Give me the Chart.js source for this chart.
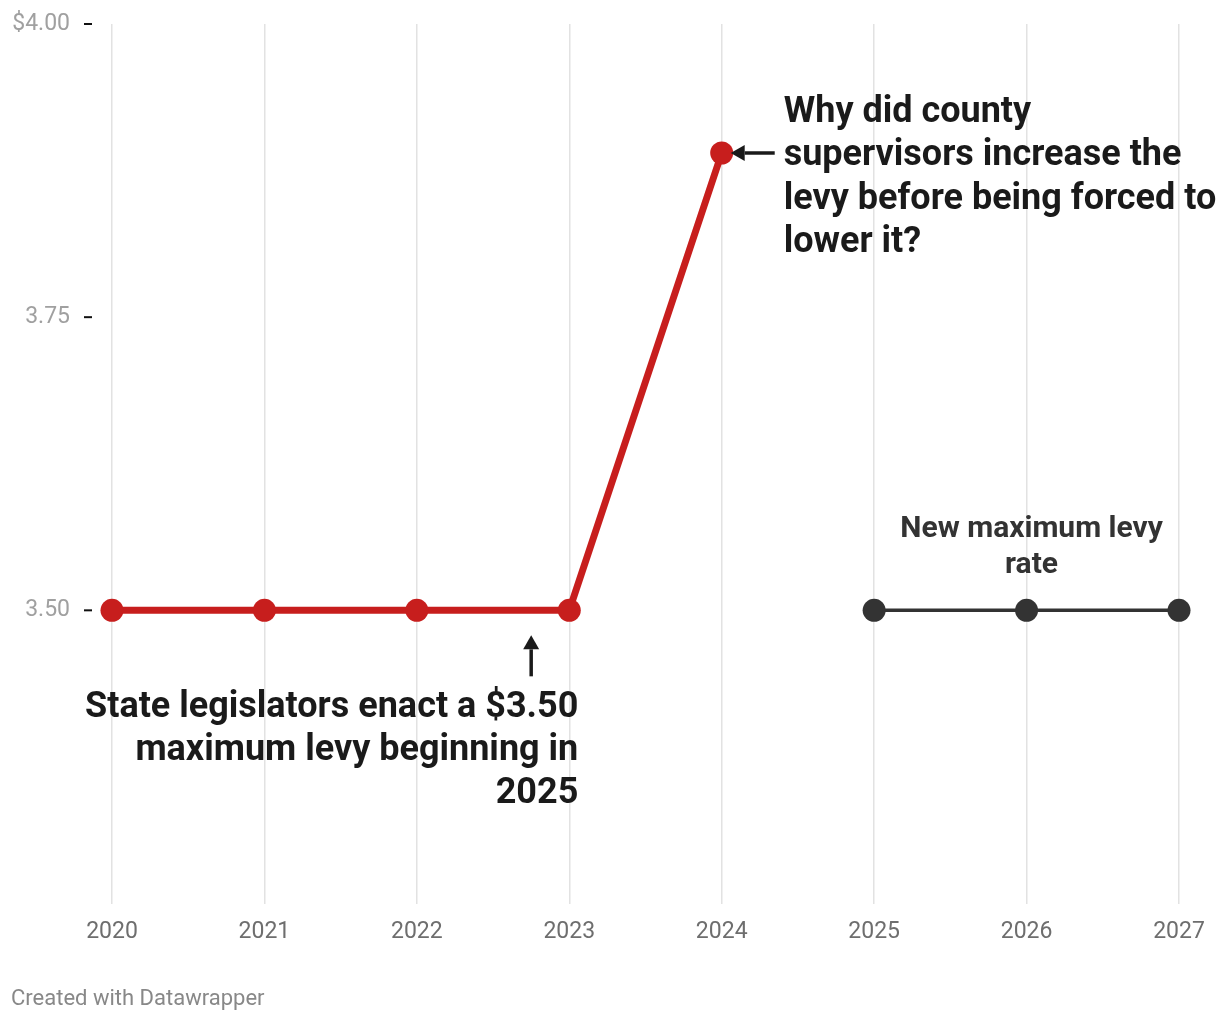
<!DOCTYPE html>
<html><head><meta charset="utf-8">
<script src="https://cdn.jsdelivr.net/npm/chart.js@4"></script>
<style>
html,body{margin:0;padding:0;background:#fff;}
#wrap{position:relative;width:1220px;height:1020px;overflow:hidden;}
#credit{position:absolute;left:11px;top:985px;font:22px Roboto,sans-serif;color:#888;line-height:26px;}
</style></head><body>
<div id="wrap"><canvas id="c" width="1220" height="1020"></canvas><div id="credit">Created with Datawrapper</div></div>
<script>
const levyYears = [2020, 2021, 2022, 2023, 2024];
const levyRates = [3.50, 3.50, 3.50, 3.50, 3.89];
const capYears = [2025, 2026, 2027];
const capRates = [3.50, 3.50, 3.50];
const yTickValues = [3.50, 3.75, 4.00];
const yTickLabels = ['3.50', '3.75', '$4.00'];
const topNote = ['Why did county', 'supervisors increase the', 'levy before being forced to', 'lower it?'];
const bottomNote = ['State legislators enact a $3.50', 'maximum levy beginning in', '2025'];
const capNote = ['New maximum levy', 'rate'];

const RED = '#c71e1d', DARK = '#333333', INK = '#1a1a1a';

function arrow(ctx, x1, y1, x2, y2) { // from (x1,y1) to tip (x2,y2)
  const ang = Math.atan2(y2 - y1, x2 - x1), hl = 14, hw = 8;
  const bx = x2 - hl * Math.cos(ang), by = y2 - hl * Math.sin(ang);
  ctx.save();
  ctx.strokeStyle = INK; ctx.fillStyle = INK; ctx.lineWidth = 3.5;
  ctx.beginPath(); ctx.moveTo(x1, y1); ctx.lineTo(bx, by); ctx.stroke();
  ctx.beginPath(); ctx.moveTo(x2, y2);
  ctx.lineTo(bx + hw * Math.sin(ang), by - hw * Math.cos(ang));
  ctx.lineTo(bx - hw * Math.sin(ang), by + hw * Math.cos(ang));
  ctx.closePath(); ctx.fill();
  ctx.restore();
}

const annotations = {
  id: 'annotations',
  afterDraw(chart) {
    const ctx = chart.ctx, xs = chart.scales.x, ys = chart.scales.y;
    // y tick dashes
    ctx.save();
    ctx.strokeStyle = '#111'; ctx.lineWidth = 2;
    yTickValues.forEach(v => {
      const y = ys.getPixelForValue(v);
      ctx.beginPath(); ctx.moveTo(chart.chartArea.left - 28, y); ctx.lineTo(chart.chartArea.left - 20, y); ctx.stroke();
    });
    ctx.restore();
    // top note
    const px = xs.getPixelForValue(levyYears[4]), py = ys.getPixelForValue(levyRates[4]);
    arrow(ctx, px + 53, py, px + 9, py);
    ctx.save();
    ctx.font = 'bold 36px Roboto, sans-serif'; ctx.fillStyle = INK;
    ctx.textAlign = 'left'; ctx.textBaseline = 'middle';
    topNote.forEach((t, i) => ctx.fillText(t, px + 62, py - 40 + i * 43.3));
    // bottom note
    const bx = xs.getPixelForValue(2022.75), by = ys.getPixelForValue(3.5);
    arrow(ctx, bx, by + 66, bx, by + 25);
    ctx.textAlign = 'right';
    const rx = xs.getPixelForValue(2023) + 9;
    bottomNote.forEach((t, i) => ctx.fillText(t, rx, by + 98 + i * 43));
    // cap note
    ctx.font = 'bold 30px Roboto, sans-serif'; ctx.fillStyle = DARK; ctx.textAlign = 'center';
    const cx = xs.getPixelForValue(2026) + 5;
    capNote.forEach((t, i) => ctx.fillText(t, cx, by - 81 + i * 36));
    ctx.restore();
  }
};

new Chart(document.getElementById('c'), {
  type: 'line',
  data: {
    datasets: [
      {
        data: levyYears.map((x, i) => ({ x, y: levyRates[i] })),
        borderColor: RED, backgroundColor: RED, borderWidth: 7,
        pointRadius: 11.5, pointBackgroundColor: RED, pointBorderColor: RED, pointBorderWidth: 0,
        clip: false, tension: 0
      },
      {
        data: capYears.map((x, i) => ({ x, y: capRates[i] })),
        borderColor: DARK, backgroundColor: DARK, borderWidth: 3.5,
        pointRadius: 11.5, pointBackgroundColor: DARK, pointBorderColor: DARK, pointBorderWidth: 0,
        clip: false, tension: 0
      }
    ]
  },
  options: {
    responsive: false, animation: false, devicePixelRatio: 1,
    layout: { padding: { top: 24, right: 41, bottom: 76.5, left: 0 } },
    plugins: { legend: { display: false }, tooltip: { enabled: false } },
    scales: {
      x: {
        type: 'linear', min: 2020, max: 2027,
        ticks: { stepSize: 1, color: '#6e6e6e', font: { family: 'Roboto', size: 23 }, padding: 15,
                 callback: v => String(v) },
        grid: { color: '#e2e2e2', lineWidth: 1.5, drawTicks: false },
        border: { display: false },
        afterFit: s => { s.height = 40; s.paddingLeft = 0; s.paddingRight = 0; }
      },
      y: {
        type: 'linear', min: 3.25, max: 4.0,
        afterBuildTicks: s => { s.ticks = yTickValues.map(v => ({ value: v })); },
        ticks: { color: '#a0a0a0', font: { family: 'Roboto', size: 23 }, padding: 42,
                 callback: v => yTickLabels[yTickValues.indexOf(v)] },
        grid: { display: false, drawTicks: false },
        border: { display: false },
        afterFit: s => { s.width = 112; s.paddingTop = 0; s.paddingBottom = 0; }
      }
    }
  },
  plugins: [annotations]
});
</script>
</body></html>
